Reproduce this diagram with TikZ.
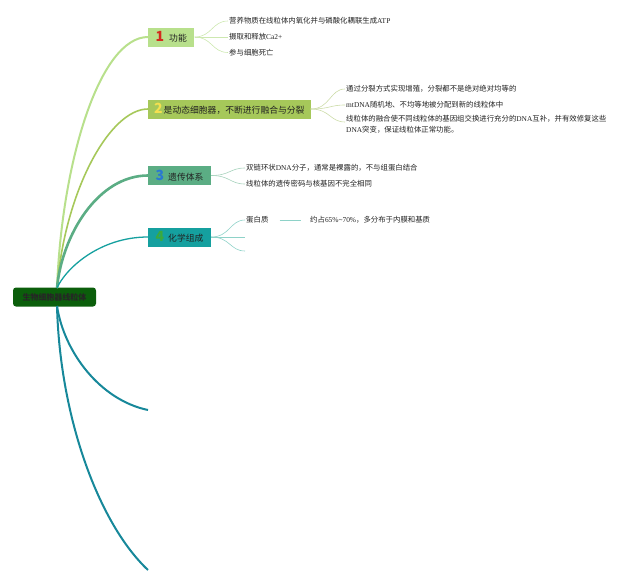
\documentclass[tikz,border=0pt]{standalone}
\usepackage{fontspec}
\setmainfont{Noto Sans CJK SC}
\newfontfamily\latf{Liberation Serif}
\newcommand{\lat}[1]{{\latf #1}}
\definecolor{rootfill}{HTML}{0B5E0B}
\definecolor{cA}{HTML}{B8E08C}
\definecolor{cB}{HTML}{A6C85A}
\definecolor{cC}{HTML}{5BAD84}
\definecolor{cD}{HTML}{15A09F}
\definecolor{cE}{HTML}{17889A}
\definecolor{lA}{HTML}{CDE8B0}
\definecolor{lB}{HTML}{CCDCA8}
\definecolor{lC}{HTML}{A6D2BC}
\definecolor{lD}{HTML}{8ED2C8}
\definecolor{nA}{HTML}{D42A1E}
\definecolor{nB}{HTML}{F4E050}
\definecolor{nC}{HTML}{2A78D2}
\definecolor{nD}{HTML}{3CAA3C}
\definecolor{txt}{HTML}{222222}
\newcommand{\topicnum}[2]{{\color{#1}\fontsize{14}{14}\bfseries\selectfont #2}}
\tikzset{
  topic/.style={rectangle, anchor=west, minimum height=19pt, inner xsep=7.5pt, inner ysep=0pt, font=\fontsize{8.8}{10}\selectfont, text=txt},
  leaf/.style={anchor=west, inner sep=1pt, font=\fontsize{7.4}{11}\selectfont, text=txt, align=left}
}
\begin{document}
\begin{tikzpicture}[x=1pt,y=-1pt]
\useasboundingbox (0,0) rectangle (640,584);
% root
\node[rectangle, rounded corners=3pt, fill=rootfill, minimum width=83pt, minimum height=19pt, inner sep=0pt, font=\fontsize{8}{10}\bfseries\selectfont, text=black!85] (root) at (54.5,297) {生物细胞器线粒体};
\coordinate (rt) at (57,288);
\coordinate (rb) at (57,306);
% main topics
\node[topic, fill=cA] (t1) at (148,37) {\topicnum{nA}{1}\hspace{5pt}功能};
\node[topic, fill=cB, inner xsep=6pt] (t2) at (148,109) {\topicnum{nB}{2}\hspace{1pt}是动态细胞器，不断进行融合与分裂};
\node[topic, fill=cC] (t3) at (148,175.5) {\topicnum{nC}{3}\hspace{4pt}遗传体系};
\node[topic, fill=cD] (t4) at (148,237) {\topicnum{nD}{4}\hspace{4pt}化学组成};
% branches
\draw[cA, line width=2pt] (rt) .. controls (62,160) and (100,37) .. (t1.west);
\draw[cB, line width=1.6pt] (rt) .. controls (65,190) and (110,109) .. (t2.west);
\draw[cC, line width=2.6pt] (rt) .. controls (62,235) and (98,175.5) .. (t3.west);
\draw[cD, line width=1.3pt] (rt) .. controls (66,268) and (100,237) .. (t4.west);
\coordinate (e1) at (148,410);
\coordinate (e2) at (148,570);
\draw[cE, line width=2pt] (rb) .. controls (64,352) and (100,400) .. (e1);
\draw[cE, line width=2pt] (rb) .. controls (60,420) and (100,525) .. (e2);
% topic 1 leaves
\node[leaf] (a1) at (228,21) {营养物质在线粒体内氧化并与磷酸化耦联生成\lat{ATP}};
\node[leaf] (a2) at (228,37) {摄取和释放\lat{Ca2+}};
\node[leaf] (a3) at (228,52.5) {参与细胞死亡};
\draw[lA, line width=0.6pt] (t1.east) .. controls (212,37) and (212,21) .. (a1.west);
\draw[lA, line width=0.6pt] (t1.east) -- (a2.west);
\draw[lA, line width=0.6pt] (t1.east) .. controls (212,37) and (212,52.5) .. (a3.west);
% topic 2 leaves
\node[leaf] (b1) at (345,89) {通过分裂方式实现增殖，分裂都不是绝对绝对均等的};
\node[leaf] (b2) at (345,105) {\lat{mtDNA}随机地、不均等地被分配到新的线粒体中};
\node[leaf, anchor=north west] (b3) at (345,114.5) {线粒体的融合使不同线粒体的基因组交换进行充分的\lat{DNA}互补，并有效修复这些\\\lat{DNA}突变，保证线粒体正常功能。};
\coordinate (b3c) at (345,122);
\draw[lB, line width=0.6pt] (t2.east) .. controls (330,109) and (330,89) .. (b1.west);
\draw[lB, line width=0.6pt] (t2.east) .. controls (330,109) and (330,105) .. (b2.west);
\draw[lB, line width=0.6pt] (t2.east) .. controls (330,109) and (330,122) .. (b3c);
% topic 3 leaves
\node[leaf] (c1) at (245,168) {双链环状\lat{DNA}分子，通常是裸露的，不与组蛋白结合};
\node[leaf] (c2) at (245,184) {线粒体的遗传密码与核基因不完全相同};
\draw[lC, line width=0.6pt] (t3.east) .. controls (230,175.5) and (230,168) .. (c1.west);
\draw[lC, line width=0.6pt] (t3.east) .. controls (230,175.5) and (230,184) .. (c2.west);
% topic 4 leaves
\node[leaf] (d1) at (245,220) {蛋白质};
\node[leaf] (d2) at (309,220) {约占\lat{65\%\textasciitilde70\%}，多分布于内膜和基质};
\coordinate (d3) at (245,237);
\coordinate (d4) at (245,251);
\draw[lD, line width=0.6pt] (t4.east) .. controls (230,237) and (230,220) .. (d1.west);
\draw[lD, line width=0.6pt] (t4.east) -- (d3);
\draw[lD, line width=0.6pt] (t4.east) .. controls (230,237) and (230,251) .. (d4);
\draw[lD, line width=0.7pt] ([xshift=10pt]d1.east) -- ([xshift=-8pt]d2.west);
\end{tikzpicture}
\end{document}
